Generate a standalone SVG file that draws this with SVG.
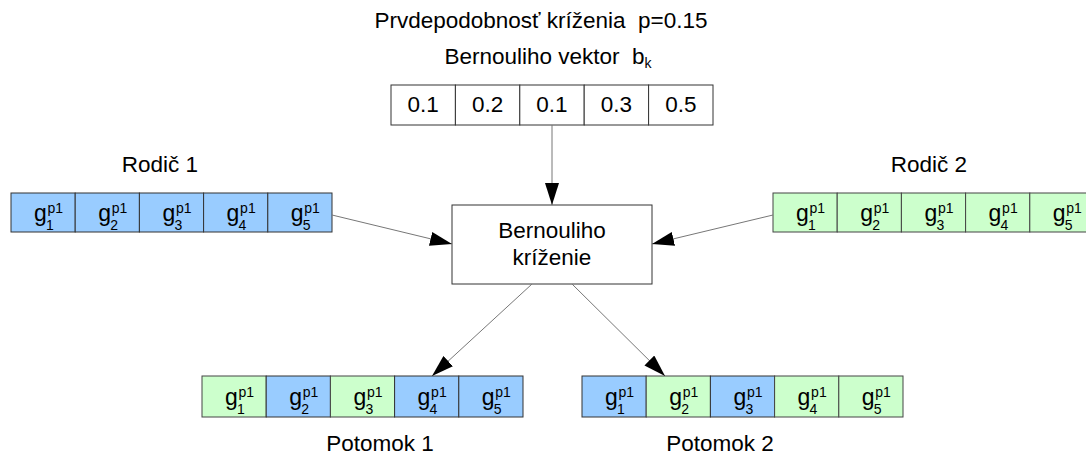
<svg xmlns="http://www.w3.org/2000/svg" width="1086" height="455" viewBox="0 0 1086 455">
<defs>
<style>
text{font-family:"Liberation Sans",Arial,sans-serif;fill:#000;white-space:pre}
.t{font-size:22.5px;text-anchor:middle}
.g{font-size:23px}
.s{font-size:14px}
.blue{fill:#99ccff;stroke:#333;stroke-width:1}
.green{fill:#ccffcc;stroke:#444;stroke-width:1}
.white{fill:#fff;stroke:#333;stroke-width:1}
.c{stroke:#777;stroke-width:1;fill:none;marker-end:url(#ah)}
</style>
<marker id="ah" viewBox="0 0 22 14" refX="22" refY="7" markerWidth="22" markerHeight="14" markerUnits="userSpaceOnUse" orient="auto">
<path d="M0,0 L22,7 L0,14 Z" fill="#000"/>
</marker>
<g id="gene">
<text class="g" x="23" y="28">g</text>
<text class="s" x="36.5" y="20">p1</text>
</g>
</defs>
<rect width="1086" height="455" fill="#fff"/>

<text class="t" x="541" y="28">Prvdepodobnosť kríženia  p=0.15</text>

<g id="vector">
<text class="t" x="548" y="64">Bernouliho vektor  b<tspan font-size="14" dy="4">k</tspan></text>
<rect class="white" x="391" y="85" width="64.4" height="40"/>
<rect class="white" x="455.4" y="85" width="64.4" height="40"/>
<rect class="white" x="519.8" y="85" width="64.4" height="40"/>
<rect class="white" x="584.2" y="85" width="64.4" height="40"/>
<rect class="white" x="648.6" y="85" width="64.4" height="40"/>
<text class="t" x="423.2" y="112">0.1</text>
<text class="t" x="487.6" y="112">0.2</text>
<text class="t" x="552" y="112">0.1</text>
<text class="t" x="616.4" y="112">0.3</text>
<text class="t" x="680.8" y="112">0.5</text>
</g>

<g id="parent1">
<text class="t" x="160" y="172">Rodič 1</text>
<rect class="blue" x="11" y="193" width="64.2" height="39"/>
<rect class="blue" x="75.2" y="193" width="64.2" height="39"/>
<rect class="blue" x="139.4" y="193" width="64.2" height="39"/>
<rect class="blue" x="203.6" y="193" width="64.2" height="39"/>
<rect class="blue" x="267.8" y="193" width="64.2" height="39"/>
<use href="#gene" x="11" y="193"/><text class="s" x="46" y="230">1</text>
<use href="#gene" x="75.2" y="193"/><text class="s" x="110.2" y="230">2</text>
<use href="#gene" x="139.4" y="193"/><text class="s" x="174.4" y="230">3</text>
<use href="#gene" x="203.6" y="193"/><text class="s" x="238.6" y="230">4</text>
<use href="#gene" x="267.8" y="193"/><text class="s" x="302.8" y="230">5</text>
</g>

<g id="parent2">
<text class="t" x="929" y="172">Rodič 2</text>
<rect class="green" x="773" y="193" width="64.2" height="39"/>
<rect class="green" x="837.2" y="193" width="64.2" height="39"/>
<rect class="green" x="901.4" y="193" width="64.2" height="39"/>
<rect class="green" x="965.6" y="193" width="64.2" height="39"/>
<rect class="green" x="1029.8" y="193" width="64.2" height="39"/>
<use href="#gene" x="773" y="193"/><text class="s" x="808" y="230">1</text>
<use href="#gene" x="837.2" y="193"/><text class="s" x="872.2" y="230">2</text>
<use href="#gene" x="901.4" y="193"/><text class="s" x="936.4" y="230">3</text>
<use href="#gene" x="965.6" y="193"/><text class="s" x="1000.6" y="230">4</text>
<use href="#gene" x="1029.8" y="193"/><text class="s" x="1064.8" y="230">5</text>
</g>

<g id="crossover">
<rect class="white" x="452" y="205" width="200" height="79"/>
<text class="t" x="552" y="238">Bernouliho</text>
<text class="t" x="552" y="265">kríženie</text>
</g>

<g id="offspring1">
<rect class="green" x="202" y="376" width="64.2" height="41"/>
<rect class="blue" x="266.2" y="376" width="64.2" height="41"/>
<rect class="green" x="330.4" y="376" width="64.2" height="41"/>
<rect class="blue" x="394.6" y="376" width="64.2" height="41"/>
<rect class="blue" x="458.8" y="376" width="64.2" height="41"/>
<use href="#gene" x="202" y="377"/><text class="s" x="237" y="414">1</text>
<use href="#gene" x="266.2" y="377"/><text class="s" x="301.2" y="414">2</text>
<use href="#gene" x="330.4" y="377"/><text class="s" x="365.4" y="414">3</text>
<use href="#gene" x="394.6" y="377"/><text class="s" x="429.6" y="414">4</text>
<use href="#gene" x="458.8" y="377"/><text class="s" x="493.8" y="414">5</text>
<text class="t" x="380" y="451">Potomok 1</text>
</g>

<g id="offspring2">
<rect class="blue" x="582" y="376" width="64.2" height="41"/>
<rect class="green" x="646.2" y="376" width="64.2" height="41"/>
<rect class="blue" x="710.4" y="376" width="64.2" height="41"/>
<rect class="green" x="774.6" y="376" width="64.2" height="41"/>
<rect class="green" x="838.8" y="376" width="64.2" height="41"/>
<use href="#gene" x="582" y="377"/><text class="s" x="617" y="414">1</text>
<use href="#gene" x="646.2" y="377"/><text class="s" x="681.2" y="414">2</text>
<use href="#gene" x="710.4" y="377"/><text class="s" x="745.4" y="414">3</text>
<use href="#gene" x="774.6" y="377"/><text class="s" x="809.6" y="414">4</text>
<use href="#gene" x="838.8" y="377"/><text class="s" x="873.8" y="414">5</text>
<text class="t" x="720" y="451">Potomok 2</text>
</g>

<g id="connectors">
<line class="c" x1="552" y1="125" x2="552" y2="205"/>
<line class="c" x1="332" y1="215" x2="452" y2="244"/>
<line class="c" x1="773" y1="215" x2="652" y2="244"/>
<line class="c" x1="532" y1="284" x2="432" y2="376"/>
<line class="c" x1="572" y1="284" x2="665" y2="376"/>
</g>
</svg>
